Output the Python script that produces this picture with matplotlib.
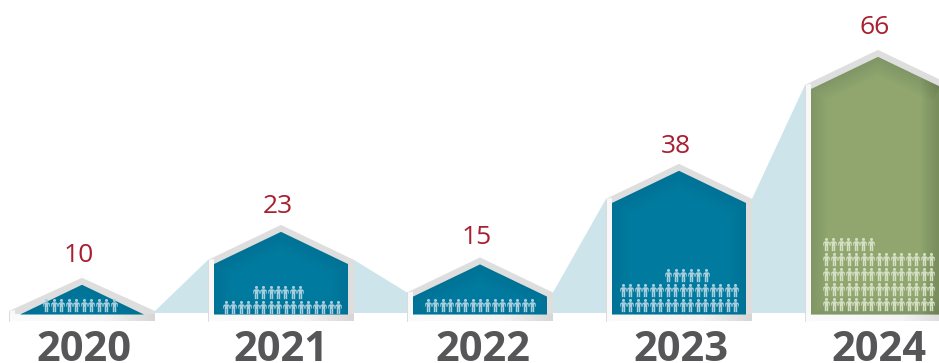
import numpy as np
import matplotlib
matplotlib.use("Agg")
import matplotlib.pyplot as plt
from matplotlib.colors import LinearSegmentedColormap
from matplotlib.path import Path
from matplotlib.patches import Polygon, Rectangle

# Yearly counts and how the pictograms are stacked, bottom row first
years = ["2020", "2021", "2022", "2023", "2024"]
counts = [10, 23, 15, 38, 66]
row_sizes = [[10], [16, 7], [15], [16, 16, 6], [15, 15, 15, 15, 7]]

# Layout, in pixels
centers = [82, 281, 480, 679, 878]
row_shift = [[-2], [1, -3], [0], [0, 0, 8], [0.7, 0.7, 0.7, 0.7, -29.6]]
first_row_lift = [15, 13, 15, 15.5, 16.5]
label_lift = [16, 12, 13.5, 11, 16]
year_centers = [84, 281, 483, 681, 879]
fills = ["#007a9e", "#007a9e", "#007a9e", "#007a9e", "#90a66e"]
icon_colors = ["#a9cfdf", "#a9cfdf", "#a9cfdf", "#a9cfdf", "#d5dfc4"]

PX_PER_UNIT = 4.07
PEAK_OFFSET = 1.5
BASE_PX = 320
HALF_W = 73
ROOF_SLOPE = 0.48
ROW_PITCH = 15
SPACING = 7.47
W, H = 939, 363

fig = plt.figure(figsize=(W / 100, H / 100), dpi=100)
ax = fig.add_axes([0, 0, 1, 1])
xlim = (0, W)
ylim = (-(H - BASE_PX) / PX_PER_UNIT, BASE_PX / PX_PER_UNIT)
ax.axis("off")


def u(px):
    """Convert a pixel height into value units."""
    return px / PX_PER_UNIT


def person_marker():
    # Head as a circle, tapered shoulders, thin arms held away from the legs
    head = Path.circle((0, 5.3), 1.6)
    body = Path([(-1.6, 3.4), (1.6, 3.4), (3.4, 2.2), (3.4, -1.2), (2.6, -1.2), (2.6, 1.2),
                 (1.8, 1.2), (1.8, -7), (0.25, -7), (0.25, -1.5), (-0.25, -1.5),
                 (-0.25, -7), (-1.8, -7), (-1.8, 1.2), (-2.6, 1.2), (-2.6, -1.2),
                 (-3.4, -1.2), (-3.4, 2.2), (-1.6, 3.4)], closed=True)
    return Path.make_compound_path(head, body)


PERSON = person_marker()
STRIP_CMAP = LinearSegmentedColormap.from_list("strip", ["#fbfbfb", "#f8f8f8", "#f3f3f3", "#d6d6d6"])


def peak(value):
    return value + u(PEAK_OFFSET)


def house(cx, value):
    top = peak(value)
    shoulder = max(top - u(HALF_W * ROOF_SLOPE), u(9))
    return [(cx - HALF_W, u(-1)), (cx - HALF_W, shoulder), (cx, top),
            (cx + HALF_W, shoulder), (cx + HALF_W, u(-1))], shoulder


def inner_house(cx, value):
    inset = 6
    top = peak(value) - u(7)
    drop = (HALF_W - inset) * ROOF_SLOPE
    floor = u(5.5)
    shoulder = top - u(drop)
    if shoulder <= floor:
        half = (top - floor) * PX_PER_UNIT / ROOF_SLOPE
        return [(cx - half, floor), (cx, top), (cx + half, floor)]
    return [(cx - HALF_W + inset, floor), (cx - HALF_W + inset, shoulder), (cx, top),
            (cx + HALF_W - inset, shoulder), (cx + HALF_W - inset, floor)]


# Pale bands joining each house's shoulder to the next
band_floor = u(7)
for i in range(len(counts) - 1):
    _, s0 = house(centers[i], counts[i])
    _, s1 = house(centers[i + 1], counts[i + 1])
    x0, x1 = centers[i] + HALF_W, centers[i + 1] - HALF_W
    ax.add_patch(Polygon([(x0, band_floor), (x0, s0), (x1, s1), (x1, band_floor)],
                         facecolor="#cde4eb", edgecolor="none", zorder=1))

for i, (cx, value, year, fill, icon, rows) in enumerate(zip(
        centers, counts, years, fills, icon_colors, row_sizes)):
    outline, shoulder = house(cx, value)

    # Bevelled frame: grey roof and right side, paler towards the left
    frame = Polygon(outline, facecolor="#dedede", edgecolor="none", zorder=2)
    ax.add_patch(frame)
    left_strip = Polygon([(cx - HALF_W, u(-1)), (cx - HALF_W, shoulder),
                          (cx - HALF_W + 6, shoulder + u(1)), (cx - HALF_W + 6, u(-1))],
                         facecolor="#f8f8f8", edgecolor="none", zorder=2.1)
    ax.add_patch(left_strip)
    ax.plot([cx - HALF_W, cx - HALF_W], [u(-1), shoulder], color="#d6d6d6", lw=0.6, zorder=2.2)
    floor_img = ax.imshow(np.linspace(0, 1, 128)[None, :], cmap=STRIP_CMAP, aspect="auto",
                          extent=(cx - HALF_W, cx + HALF_W, u(-1), u(6)), zorder=2.15)
    floor_img.set_clip_path(frame)

    # Panel with a soft darkening around its edge
    inner = inner_house(cx, value)
    panel = Polygon(inner, facecolor=fill, edgecolor="none", zorder=3)
    ax.add_patch(panel)
    for lw in np.arange(3, 27, 3):
        edge = Polygon(inner, facecolor="none", edgecolor="#0b3f55", linewidth=lw,
                       alpha=0.012, zorder=3.1)
        ax.add_patch(edge)
        edge.set_clip_path(panel)
    if value == max(counts):
        # The tallest house runs off the right side, so its panel shades towards that edge
        for off in range(2, 20, 2):
            shade = Rectangle((W - off, u(5.5)), off, value, facecolor="#2c3a1a",
                              edgecolor="none", alpha=0.022, zorder=3.2)
            ax.add_patch(shade)
            shade.set_clip_path(panel)

    # One pictogram per row unit
    for r, n in enumerate(rows):
        start = cx + row_shift[i][r] - (n - 1) * SPACING / 2
        xs = start + np.arange(n) * SPACING
        ys = np.full(n, u(first_row_lift[i] + r * ROW_PITCH))
        ax.scatter(xs, ys, marker=PERSON, s=92, color=icon, linewidths=0, zorder=4)

    ax.text(cx - 3, peak(value) + u(label_lift[i]), str(value), ha="center", va="baseline",
            color="#a81f30", fontsize=19, family="Open Sans", zorder=5)
    ax.text(year_centers[i], u(-41), year, ha="center", va="baseline", color="#565658",
            fontsize=30, family="Open Sans", weight="bold", zorder=5)

ax.set_xlim(*xlim)
ax.set_ylim(*ylim)
fig.savefig("out.png", dpi=100)
